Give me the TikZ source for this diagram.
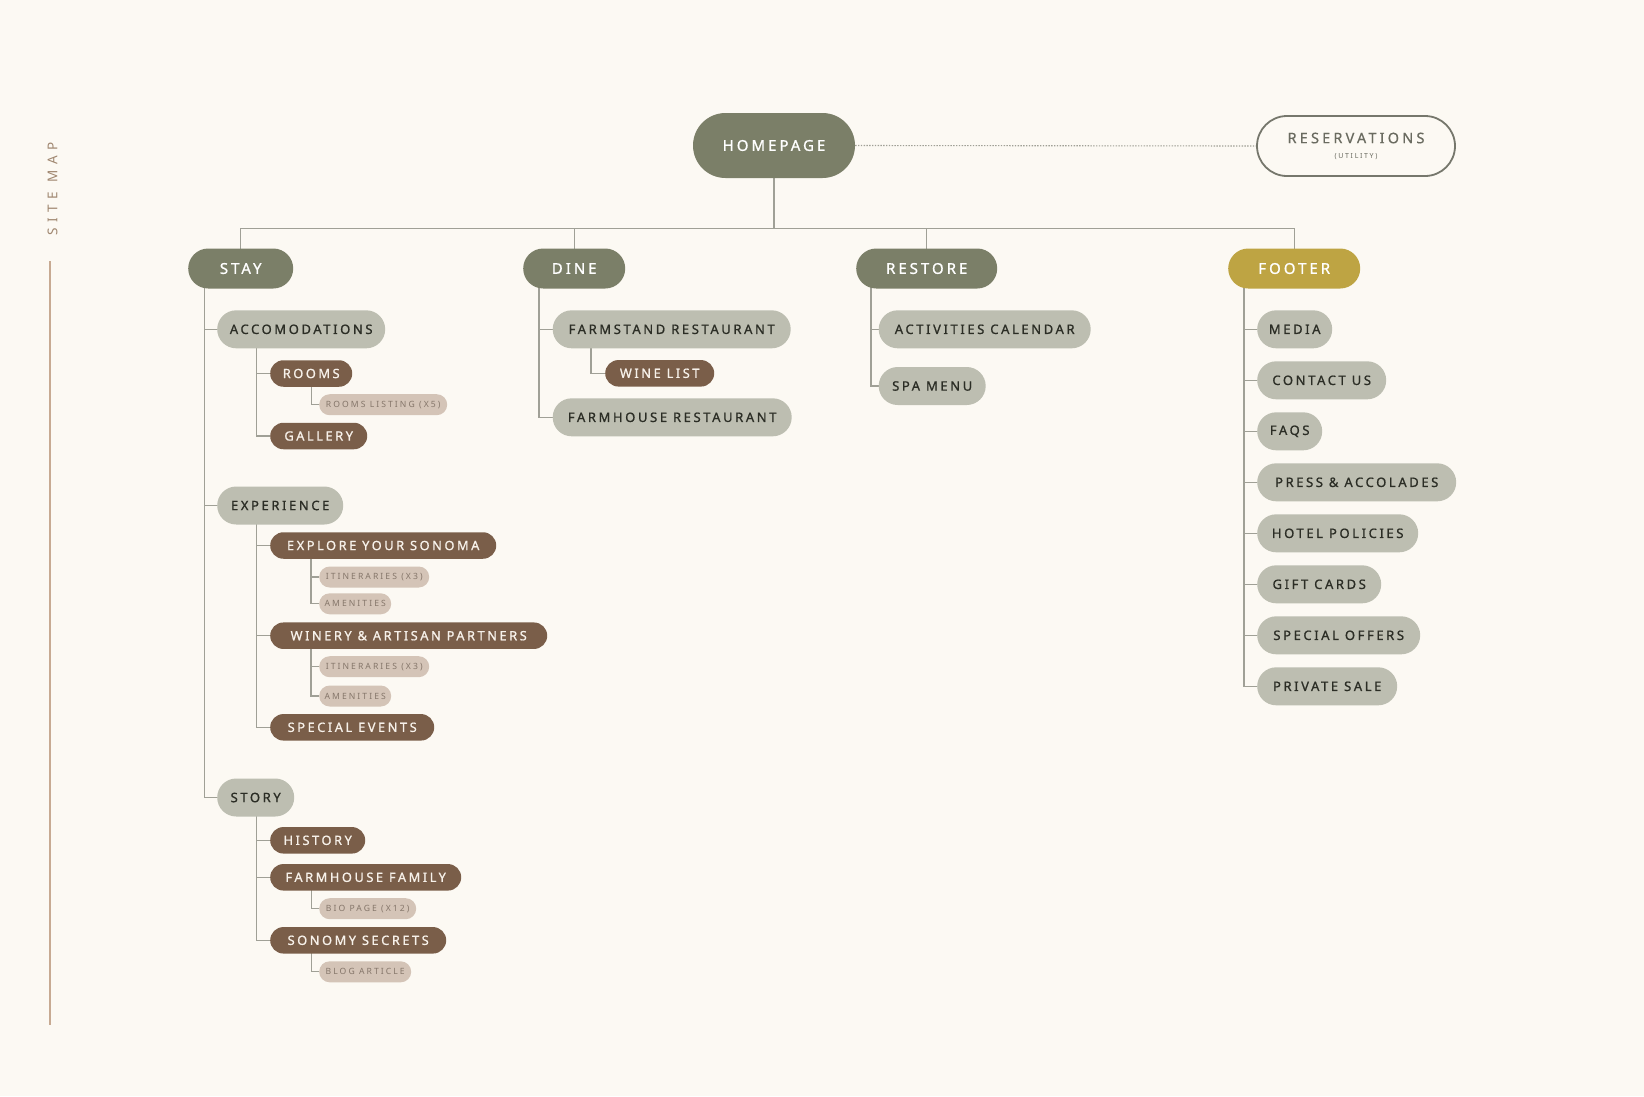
\documentclass[tikz,border=0pt]{standalone}
\usepackage{fontspec}
\setmainfont{Noto Sans}
\newfontfamily\lblfont[LetterSpace=20,FakeBold=1]{Noto Sans}
\newfontfamily\midfont[LetterSpace=22,FakeBold=0.5]{Noto Sans}
\newfontfamily\litefont[LetterSpace=24]{Noto Sans}
\newfontfamily\smfont[LetterSpace=42]{Noto Sans}
\definecolor{bgc}{HTML}{FCF9F3}
\definecolor{olive}{HTML}{7B7F68}
\definecolor{gold}{HTML}{BEA443}
\definecolor{sage}{HTML}{BDBEB1}
\definecolor{sagetext}{HTML}{2B2D25}
\definecolor{brown}{HTML}{7A5E49}
\definecolor{browntext}{HTML}{F7F1EA}
\definecolor{tan}{HTML}{D4C4B7}
\definecolor{tantext}{HTML}{85766A}
\definecolor{resvline}{HTML}{76776C}
\definecolor{resvtext}{HTML}{6A6B60}
\definecolor{connc}{HTML}{A0A096}
\definecolor{smtext}{HTML}{A08770}
\definecolor{smline}{HTML}{C7AA92}
\pgfdeclarelayer{back}
\pgfdeclarelayer{lines}
\pgfsetlayers{back,lines,main}
\tikzset{
  base/.style={rectangle, inner sep=0pt, anchor=west, align=center},
  homebox/.style={base, anchor=center, fill=olive, text=white, minimum height=65, minimum width=162, rounded corners=32.5,
    font=\lblfont\fontsize{15}{15}\selectfont},
  resvbox/.style={base, anchor=center, draw=resvline, line width=1.8pt, fill=bgc, text=resvtext, minimum height=60, minimum width=198, rounded corners=30},
  lone/.style={base, fill=olive, text=white, minimum height=40, rounded corners=20,
    font=\lblfont\fontsize{15}{15}\selectfont},
  ltwo/.style={base, fill=sage, text=sagetext, minimum height=38, rounded corners=19,
    font=\lblfont\fontsize{13}{13}\selectfont},
  lthree/.style={base, fill=brown, text=browntext, minimum height=26.5, rounded corners=13.25,
    font=\lblfont\fontsize{12.8}{13}\selectfont},
  lfour/.style={base, fill=tan, text=tantext, minimum height=21, rounded corners=10.5,
    font=\litefont\fontsize{8.6}{9}\selectfont},
  conn/.style={draw=connc, line width=1.3pt},
}
\begin{document}
\begin{tikzpicture}[x=1pt,y=-1pt]
\begin{pgfonlayer}{back}
\fill[bgc] (0,0) rectangle (1644,1096);
\end{pgfonlayer}
\useasboundingbox (0,0) rectangle (1644,1096);

% side label
\node[rotate=90, text=smtext, inner sep=0pt, font=\smfont\fontsize{13.5}{14}\selectfont] (sm) at (52.5,189) {SITE MAP};
\coordinate (smtop) at (50.3,261);
\coordinate (smbot) at (50.3,1025);
\draw[smline, line width=2pt] (smtop) -- (smbot);

% top
\node[homebox] (home) at (774,145.5) {HOMEPAGE};
\node[resvbox] (resv) at (1356,146) {{\midfont\fontsize{14.5}{16}\selectfont RESERVATIONS}\\[3pt]{\litefont\fontsize{7}{8}\selectfont (UTILITY)}};

% level 1
\node[lone, minimum width=105] (stay) at (188,268.5) {STAY};
\node[lone, minimum width=102] (dine) at (523,268.5) {DINE};
\node[lone, minimum width=141] (restore) at (856,268.5) {RESTORE};
\node[lone, fill=gold, minimum width=132] (footer) at (1228,268.5) {FOOTER};

% STAY
\node[ltwo, minimum width=168] (accom) at (217,329.3) {ACCOMODATIONS};
\node[lthree, minimum width=82] (rooms) at (270,373.5) {ROOMS};
\node[lfour, minimum width=128] (roomslist) at (319,404.7) {ROOMS LISTING (X5)};
\node[lthree, minimum width=97] (gallery) at (270,436) {GALLERY};

\node[ltwo, minimum width=126] (exper) at (217,505.5) {EXPERIENCE};
\node[lthree, minimum width=226] (explore) at (270,545.5) {EXPLORE YOUR SONOMA};
\node[lfour, minimum width=110] (itinA) at (319,577) {ITINERARIES (X3)};
\node[lfour, minimum width=72] (amenA) at (319,603.8) {AMENITIES};
\node[lthree, minimum width=277] (winery) at (270,635.7) {WINERY \& ARTISAN PARTNERS};
\node[lfour, minimum width=110] (itinB) at (319,666.7) {ITINERARIES (X3)};
\node[lfour, minimum width=72] (amenB) at (319,696) {AMENITIES};
\node[lthree, minimum width=164] (specev) at (270,727.3) {SPECIAL EVENTS};

\node[ltwo, minimum width=77] (story) at (217,797.5) {STORY};
\node[lthree, minimum width=95] (history) at (270,840.3) {HISTORY};
\node[lthree, minimum width=191] (family) at (270,877.3) {FARMHOUSE FAMILY};
\node[lfour, minimum width=97] (bio) at (319,908.7) {BIO PAGE (X12)};
\node[lthree, minimum width=176] (secrets) at (270,940.3) {SONOMY SECRETS};
\node[lfour, minimum width=92] (blog) at (319,971.8) {BLOG ARTICLE};

% DINE
\node[ltwo, minimum width=238] (farmstand) at (552.5,329.3) {FARMSTAND RESTAURANT};
\node[lthree, minimum width=109] (winelist) at (605,373.3) {WINE LIST};
\node[ltwo, minimum width=239] (farmhouse) at (552.5,417.3) {FARMHOUSE RESTAURANT};

% RESTORE
\node[ltwo, minimum width=212] (activities) at (878.5,329.3) {ACTIVITIES CALENDAR};
\node[ltwo, minimum width=107] (spa) at (878.5,386) {SPA MENU};

% FOOTER
\node[ltwo, minimum width=75] (media) at (1257,329.3) {MEDIA};
\node[ltwo, minimum width=129] (contact) at (1257,380.3) {CONTACT US};
\node[ltwo, minimum width=65] (faqs) at (1257,431.3) {FAQS};
\node[ltwo, minimum width=199] (press) at (1257,482.3) {PRESS \& ACCOLADES};
\node[ltwo, minimum width=161] (hotel) at (1257,533.3) {HOTEL POLICIES};
\node[ltwo, minimum width=124] (gift) at (1257,584.3) {GIFT CARDS};
\node[ltwo, minimum width=163] (offers) at (1257,635.3) {SPECIAL OFFERS};
\node[ltwo, minimum width=140] (private) at (1257,686.3) {PRIVATE SALE};

\coordinate (bar) at (774,228.6);

\begin{pgfonlayer}{lines}
\draw[draw=connc, line width=1.1pt, dash pattern=on 1.4pt off 1.4pt] (home.east) -- (resv.west);
\draw[conn] (home.center) -- (bar) -| (stay.center);
\draw[conn] (bar) -| (dine.center);
\draw[conn] (bar) -| (restore.center);
\draw[conn] (bar) -| (footer.center);
% STAY
\foreach \c in {accom,exper,story} \draw[conn] ([xshift=16.5pt]stay.center -| stay.west) |- (\c.west);
\foreach \c in {rooms,gallery} \draw[conn] ([xshift=39.7pt]accom.center -| accom.west) |- (\c.west);
\draw[conn] ([xshift=41.7pt]rooms.center -| rooms.west) |- (roomslist.west);
\foreach \c in {explore,winery,specev} \draw[conn] ([xshift=39.7pt]exper.center -| exper.west) |- (\c.west);
\foreach \c in {itinA,amenA} \draw[conn] ([xshift=41pt]explore.center -| explore.west) |- (\c.west);
\foreach \c in {itinB,amenB} \draw[conn] ([xshift=41pt]winery.center -| winery.west) |- (\c.west);
\foreach \c in {history,family,secrets} \draw[conn] ([xshift=39.7pt]story.center -| story.west) |- (\c.west);
\draw[conn] ([xshift=41.7pt]family.center -| family.west) |- (bio.west);
\draw[conn] ([xshift=41.7pt]secrets.center -| secrets.west) |- (blog.west);
% DINE
\foreach \c in {farmstand,farmhouse} \draw[conn] ([xshift=16pt]dine.center -| dine.west) |- (\c.west);
\draw[conn] ([xshift=38.5pt]farmstand.center -| farmstand.west) |- (winelist.west);
% RESTORE
\foreach \c in {activities,spa} \draw[conn] ([xshift=15pt]restore.center -| restore.west) |- (\c.west);
% FOOTER
\foreach \c in {media,contact,faqs,press,hotel,gift,offers,private} \draw[conn] ([xshift=16pt]footer.center -| footer.west) |- (\c.west);
\end{pgfonlayer}
\end{tikzpicture}
\end{document}
